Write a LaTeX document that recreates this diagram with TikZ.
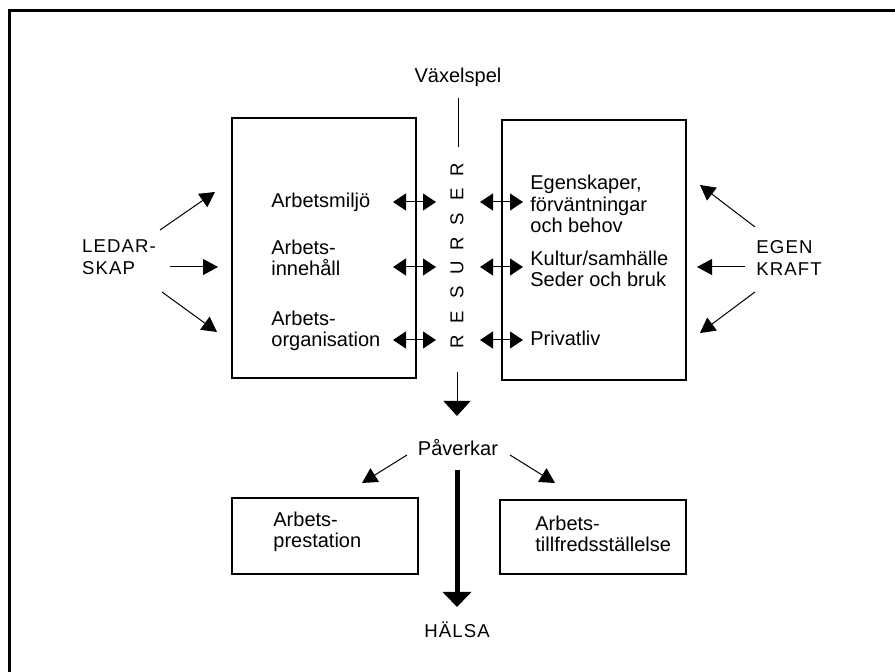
\documentclass[tikz,border=0pt]{standalone}
\usepackage{fontspec}
\setmainfont{Liberation Sans}
\usetikzlibrary{arrows.meta,positioning}

\tikzset{
  box/.style={draw, line width=0.6pt, inner sep=0pt},
  txt/.style={align=left, inner sep=0pt, anchor=west, font=\fontsize{10}{10.6}\selectfont},
  caps/.style={align=left, inner sep=0pt, font=\fontsize{9.3}{11.2}\selectfont\addfontfeatures{LetterSpace=6}},
  pil/.style={line width=0.5pt, -{Triangle[length=7.5pt,width=8pt]}},
  dubbel/.style={line width=0.5pt, {Triangle[length=6.5pt,width=8.5pt]}-{Triangle[length=6.5pt,width=8.5pt]}},
}

\begin{document}
\begin{tikzpicture}[x=0.5pt, y=-0.5pt]
\useasboundingbox (0,0) rectangle (895,672);
% frame
\draw [line width=1.5pt] (9,672) -- (9,11) -- (895,11);

% upper boxes
\node [box, minimum width=92pt, minimum height=130pt] (arbetebox) at (324,248) {};
\node [box, minimum width=92pt, minimum height=130pt] (personbox) at (594,250) {};

\node [txt] (miljo) at (271,202) {Arbetsmiljö};
\node [txt] (innehall) at (271,258) {Arbets-\\innehåll};
\node [txt] (organisation) at (271,331) {Arbets-\\organisation};

\node [txt] (egenskaper) at (530,204) {Egenskaper,\\förväntningar\\och behov};
\node [txt] (kultur) at (530,269) {Kultur/samhälle\\Seder och bruk};
\node [txt] (privatliv) at (530,338) {Privatliv};

% resurser in the middle
\node [txt, anchor=center] (vaxelspel) at (458,77) {Växelspel};
\coordinate (vaxeltopp) at (458,98);
\coordinate (vaxelfot) at (458,147);
\draw [line width=0.5pt] (vaxeltopp) -- (vaxelfot);
\foreach \l [count=\i] in {R,E,S,U,R,S,E,R}
    \node [caps, rotate=90] (res\i) at (457,{342-(\i-1)*24.6}) {\l};

\foreach \y in {202,267,340} {
    \coordinate (va\y) at (393,\y);
    \coordinate (ha\y) at (436,\y);
    \coordinate (vb\y) at (480,\y);
    \coordinate (hb\y) at (523,\y);
    \draw [dubbel] (va\y) -- (ha\y);
    \draw [dubbel] (vb\y) -- (hb\y);
}

% ledarskap and egen kraft
\node [caps] (ledarskap) at (119,257) {LEDAR-\\SKAP};
\coordinate (led1) at (215,192);
\coordinate (led2) at (218,267);
\coordinate (led3) at (217,332);
\draw [pil] (160,230) -- (led1);
\draw [pil] (170,267) -- (led2);
\draw [pil] (162,292) -- (led3);

\node [caps, anchor=west] (egenkraft) at (756,258) {EGEN\\KRAFT};
\coordinate (egen1) at (700,185);
\coordinate (egen2) at (697,267);
\coordinate (egen3) at (700,333);
\draw [pil] (755,227) -- (egen1);
\draw [pil] (745,267) -- (egen2);
\draw [pil] (755,292) -- (egen3);

% effects
\node [txt, anchor=center] (paverkar) at (458,448) {Påverkar};
\coordinate (resfot) at (457,372);
\coordinate (restopp) at (457,416);
\draw [line width=0.5pt, -{Triangle[length=7.5pt,width=13.5pt]}] (resfot) -- (restopp);
\coordinate (pil1) at (362,483);
\coordinate (pil2) at (555,483);
\draw [pil] (407,455) -- (pil1);
\draw [pil] (510,455) -- (pil2);

\node [box, minimum width=93pt, minimum height=38pt] (prestationbox) at (325,536) {};
\node [box, minimum width=93pt, minimum height=37pt] (tillfredsbox) at (593,537) {};
\node [txt] (prestation) at (273,532) {Arbets-\\prestation};
\node [txt] (tillfreds) at (535,534) {Arbets-\\tillfredsställelse};

\node [caps, anchor=center] (halsa) at (457,630) {HÄLSA};
\coordinate (halsastart) at (457,470);
\coordinate (halsatopp) at (457,607);
\draw [line width=2.5pt, -{Triangle[length=7.5pt,width=14pt]}] (halsastart) -- (halsatopp);
\end{tikzpicture}
\end{document}
